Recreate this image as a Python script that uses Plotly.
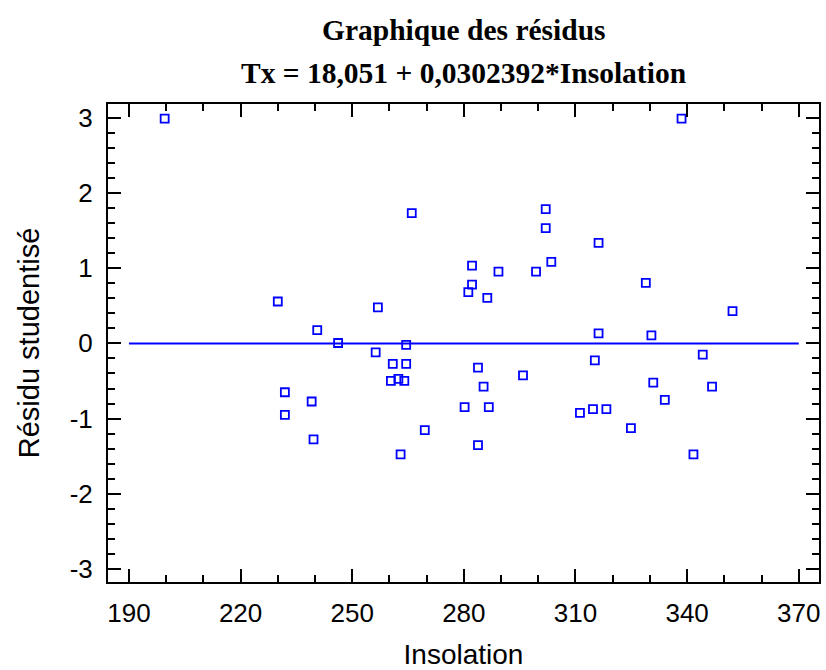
import plotly.graph_objects as go

# Data (Insolation vs studentized residual)
insolation = [199.6, 338.5,
              266.0, 230.0, 256.9, 240.6, 246.2, 264.5, 256.3, 260.9, 264.5, 260.4,
              262.4, 264.0, 231.9, 239.1, 231.9, 239.6, 269.5, 263.0,
              302.0, 302.0, 316.2, 282.2, 289.3, 299.4, 303.5, 282.2, 281.2, 286.3,
              316.2, 315.2, 283.8, 295.9, 285.3, 280.2, 286.7, 311.2, 314.7, 318.3,
              283.8,
              328.9, 352.2, 330.4, 344.2, 330.9, 346.7, 334.0, 324.9, 341.7]
residus = [2.985, 2.985,
           1.731, 0.556, 0.477, 0.177, 0.005, -0.021, -0.119, -0.273, -0.273, -0.498,
           -0.472, -0.498, -0.649, -0.772, -0.949, -1.276, -1.152, -1.474,
           1.784, 1.532, 1.334, 1.033, 0.954, 0.954, 1.082, 0.781, 0.680, 0.605,
           0.133, -0.225, -0.322, -0.424, -0.574, -0.847, -0.847, -0.922, -0.874, -0.874,
           -1.351,
           0.804, 0.429, 0.106, -0.150, -0.521, -0.574, -0.750, -1.126, -1.474]

zero_line_x = [190, 370]
zero_line_y = [0, 0]

x_tick_vals = [190, 220, 250, 280, 310, 340, 370]
x_tick_text = ["190", "220", "250", "280", "310", "340", "370"]
y_tick_vals = [-3, -2, -1, 0, 1, 2, 3]
y_tick_text = ["-3", "-2", "-1", "0", "1", "2", "3"]

title_1 = "Graphique des résidus"
title_2 = "Tx = 18,051 + 0,0302392*Insolation"
x_title = "Insolation"
y_title = "Résidu studentisé"

BLUE = "rgb(0,0,255)"

fig = go.Figure()
fig.add_trace(go.Scatter(x=zero_line_x, y=zero_line_y, mode="lines",
                         line=dict(color=BLUE, width=2), hoverinfo="skip",
                         showlegend=False))
fig.add_trace(go.Scatter(x=insolation, y=residus, mode="markers",
                         marker=dict(symbol="square-open", size=8,
                                     color=BLUE, line=dict(color=BLUE, width=1.8)),
                         showlegend=False))

axis_common = dict(showline=True, linecolor="black", linewidth=2, mirror="allticks",
                   ticks="inside", ticklen=13, tickwidth=2, tickcolor="black",
                   showgrid=False, zeroline=False, tickmode="array",
                   tickfont=dict(family="Liberation Sans, Arial", size=26, color="black"))

fig.update_xaxes(range=[184.37, 375.44], tickvals=x_tick_vals, ticktext=x_tick_text,
                 minor=dict(ticks="inside", ticklen=7, tickwidth=2, tickcolor="black", dtick=10, tick0=190),
                 ticklabelstandoff=7,
                 title=dict(text=x_title, font=dict(family="Liberation Sans, Arial", size=28, color="black"),
                            standoff=17),
                 **axis_common)
fig.update_yaxes(range=[-3.17, 3.18], tickvals=y_tick_vals, ticktext=y_tick_text,
                 minor=dict(ticks="inside", ticklen=7, tickwidth=2, tickcolor="black", dtick=0.2, tick0=0),
                 ticklabelstandoff=8,
                 title=dict(text=y_title, font=dict(family="Liberation Sans, Arial", size=29, color="black"),
                            standoff=22),
                 **axis_common)

fig.add_annotation(text="<b>" + title_1 + "</b>", xref="paper", yref="paper",
                   x=0.5, y=1.155, xanchor="center", yanchor="middle", showarrow=False,
                   font=dict(family="Liberation Serif, Times New Roman", size=29.5, color="black"))
fig.add_annotation(text="<b>" + title_2 + "</b>", xref="paper", yref="paper",
                   x=0.5, y=1.065, xanchor="center", yanchor="middle", showarrow=False,
                   font=dict(family="Liberation Serif, Times New Roman", size=29.5, color="black"))

fig.update_layout(width=826, height=670, margin=dict(l=108, r=5, t=104, b=86),
                  plot_bgcolor="white", paper_bgcolor="white")

fig.write_html("out.html")
